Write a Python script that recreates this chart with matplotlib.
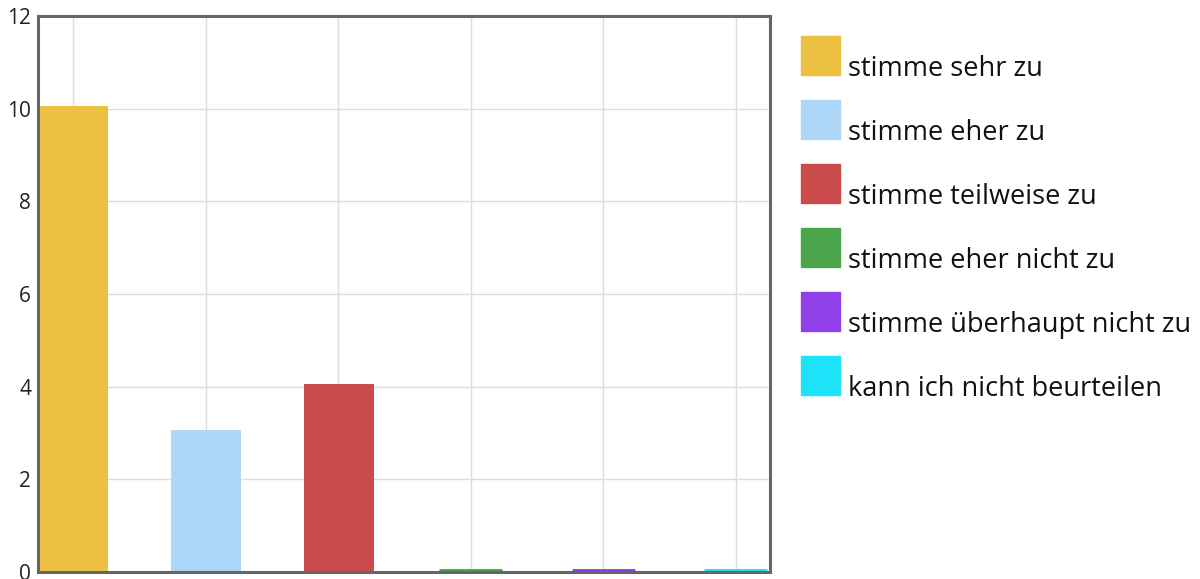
import numpy as np
import matplotlib.pyplot as plt
from matplotlib.patches import Rectangle

plt.rcParams['font.family'] = ['Open Sans', 'DejaVu Sans']

categories = ['stimme sehr zu', 'stimme eher zu', 'stimme teilweise zu',
              'stimme eher nicht zu', 'stimme überhaupt nicht zu',
              'kann ich nicht beurteilen']
values = [10, 3, 4, 0, 0, 0]
colors = ['#ECC040', '#AED6F7', '#CB4B4B', '#4CA64C', '#9040E8', '#1EE2F8']
y_ticks = [0, 2, 4, 6, 8, 10, 12]

fig = plt.figure(figsize=(12, 5.79), dpi=100)
ax = fig.add_axes([0.0317, 0.0121, 0.61, 0.9603])

x = np.arange(len(categories))
# edge in the bar colour so empty categories still show as a thin strip
ax.bar(x, values, width=0.475, color=colors, edgecolor=colors, linewidth=5,
       joinstyle='miter')

ax.set_xlim(-0.264, 5.26)
ax.set_ylim(0, 12)
ax.set_yticks(y_ticks)
ax.set_xticks(x)
ax.set_xticklabels([])
ax.tick_params(axis='both', length=0)
ax.tick_params(axis='y', pad=5, labelsize=15, labelcolor='#222222')
ax.grid(True, color='#dddddd', linewidth=1)
ax.set_axisbelow(True)
for s in ax.spines.values():
    s.set_color('#666666')
    s.set_linewidth(2.2)

# legend drawn by hand: square swatch, label sitting on its bottom edge
W, H = 1200, 579
for i, (lab, c) in enumerate(zip(categories, colors)):
    top = 36 + i * 64
    fig.add_artist(Rectangle((801 / W, 1 - (top + 39) / H), 39 / W, 39 / H,
                             transform=fig.transFigure, color=c))
    fig.text(848 / W, 1 - (top + 40) / H, lab, fontsize=19.5, color='#111111',
             ha='left', va='baseline')

fig.savefig('out.png', dpi=100)
